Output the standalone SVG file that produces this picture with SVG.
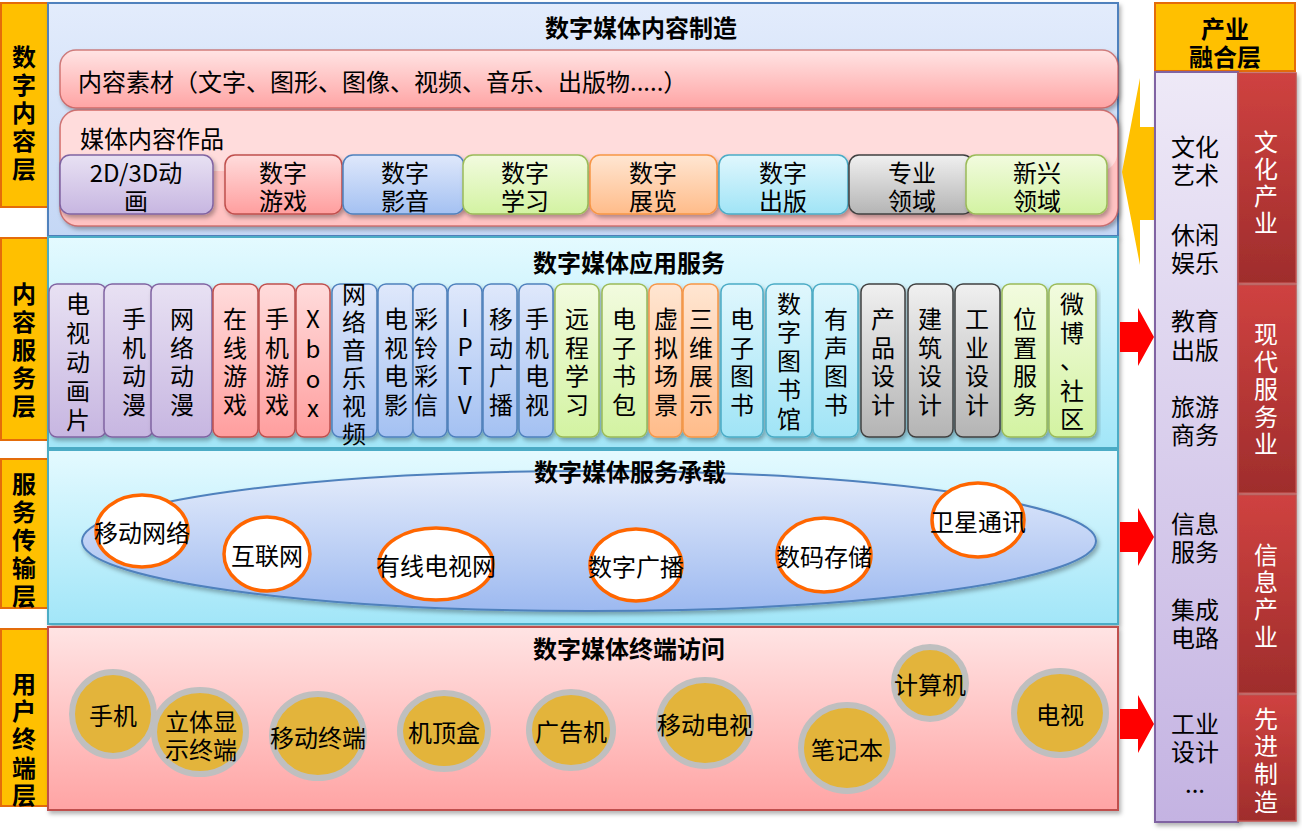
<svg xmlns="http://www.w3.org/2000/svg" width="1304" height="834" viewBox="0 0 1304 834">
<defs>
<linearGradient id="gP1" x1="0" y1="0" x2="0" y2="1"><stop offset="0" stop-color="#E3ECFC"/><stop offset="1" stop-color="#C4D7F5"/></linearGradient>
<linearGradient id="gCy" x1="0" y1="0" x2="0" y2="1"><stop offset="0" stop-color="#E4FAFF"/><stop offset="1" stop-color="#A2E6F8"/></linearGradient>
<linearGradient id="gPk" x1="0" y1="0" x2="0" y2="1"><stop offset="0" stop-color="#FFE4E4"/><stop offset="1" stop-color="#FFA4A4"/></linearGradient>
<linearGradient id="gEl" x1="0" y1="0" x2="0" y2="1"><stop offset="0" stop-color="#E4ECFB"/><stop offset="1" stop-color="#9DB9F0"/></linearGradient>
<linearGradient id="gPur" x1="0" y1="0" x2="0" y2="1"><stop offset="0" stop-color="#E8E1F3"/><stop offset="1" stop-color="#C7B6E1"/></linearGradient>
<linearGradient id="gRed" x1="0" y1="0" x2="0" y2="1"><stop offset="0" stop-color="#FFDCDC"/><stop offset="1" stop-color="#FF9E9E"/></linearGradient>
<linearGradient id="gBlu" x1="0" y1="0" x2="0" y2="1"><stop offset="0" stop-color="#DFE8FB"/><stop offset="1" stop-color="#A4C1F2"/></linearGradient>
<linearGradient id="gGrn" x1="0" y1="0" x2="0" y2="1"><stop offset="0" stop-color="#F2FBDF"/><stop offset="1" stop-color="#D3F3A2"/></linearGradient>
<linearGradient id="gOrg" x1="0" y1="0" x2="0" y2="1"><stop offset="0" stop-color="#FFE6D2"/><stop offset="1" stop-color="#FFBC8A"/></linearGradient>
<linearGradient id="gCyI" x1="0" y1="0" x2="0" y2="1"><stop offset="0" stop-color="#E0F7FD"/><stop offset="1" stop-color="#A0E4F6"/></linearGradient>
<linearGradient id="gGry" x1="0" y1="0" x2="0" y2="1"><stop offset="0" stop-color="#F0F0F0"/><stop offset="1" stop-color="#B4B4B4"/></linearGradient>
<linearGradient id="gPurCol" x1="0" y1="0" x2="0" y2="1"><stop offset="0" stop-color="#EEE9F7"/><stop offset="1" stop-color="#C4B3E2"/></linearGradient>
<linearGradient id="gRedCol" x1="0" y1="0" x2="0" y2="1"><stop offset="0" stop-color="#CF4240"/><stop offset="1" stop-color="#9F2D2C"/></linearGradient>
<filter id="sh" x="-10%" y="-10%" width="120%" height="130%"><feDropShadow dx="2" dy="3" stdDeviation="2" flood-color="#000" flood-opacity="0.3"/></filter>
</defs>
<style>
text{font-family:"Noto Sans CJK SC","Noto Sans",sans-serif;font-size:24px;fill:#000;dominant-baseline:central}
.b{font-weight:bold}
.c{text-anchor:middle}
.w{fill:#fff}
.lab{fill:#FFC000;stroke:#E46C0A;stroke-width:2}
.pur{fill:url(#gPur);stroke:#8064A2;stroke-width:1.5}
.red{fill:url(#gRed);stroke:#C0504D;stroke-width:1.5}
.blu{fill:url(#gBlu);stroke:#4F81BD;stroke-width:1.5}
.grn{fill:url(#gGrn);stroke:#9BBB59;stroke-width:1.5}
.org{fill:url(#gOrg);stroke:#F79646;stroke-width:1.5}
.cyi{fill:url(#gCyI);stroke:#4BACC6;stroke-width:1.5}
.gry{fill:url(#gGry);stroke:#404040;stroke-width:1.5}
.net{fill:#fff;stroke:#FF6600;stroke-width:3.5}
.dev{fill:#E3B43B;stroke:#BFBFBF;stroke-width:6}
.redc{fill:url(#gRedCol);stroke:#C0504D;stroke-width:1.5}
</style>
<rect width="1304" height="834" fill="#fff"/>

<!-- left layer labels -->
<g id="label-content">
<rect class="lab" x="1" y="3" width="47" height="204"/>
<text class="b c"><tspan x="24" y="55">数</tspan><tspan x="24" y="83">字</tspan><tspan x="24" y="111">内</tspan><tspan x="24" y="139">容</tspan><tspan x="24" y="167">层</tspan></text>
</g>
<g id="label-service">
<rect class="lab" x="1" y="238" width="47" height="202"/>
<text class="b c"><tspan x="24" y="292">内</tspan><tspan x="24" y="320">容</tspan><tspan x="24" y="348">服</tspan><tspan x="24" y="376">务</tspan><tspan x="24" y="404">层</tspan></text>
</g>
<g id="label-transport">
<rect class="lab" x="1" y="459" width="47" height="149"/>
<text class="b c"><tspan x="24" y="482">服</tspan><tspan x="24" y="510">务</tspan><tspan x="24" y="538">传</tspan><tspan x="24" y="566">输</tspan><tspan x="24" y="594">层</tspan></text>
</g>
<g id="label-terminal">
<rect class="lab" x="1" y="629" width="47" height="177"/>
<text class="b c"><tspan x="24" y="682">用</tspan><tspan x="24" y="709">户</tspan><tspan x="24" y="737">终</tspan><tspan x="24" y="766">端</tspan><tspan x="24" y="793">层</tspan></text>
</g>

<!-- Layer 1 -->
<g id="panel-content">
<rect x="48" y="3" width="1070" height="233" fill="url(#gP1)" stroke="#4F81BD" stroke-width="2" filter="url(#sh)"/>
<text class="b c" x="641" y="26">数字媒体内容制造</text>
</g>
<g id="material">
<rect x="60" y="50" width="1058" height="58" rx="16" fill="url(#gPk)" stroke="#C0504D" stroke-width="1.5" stroke-opacity="0.7" filter="url(#sh)"/>
<text x="78" y="80">内容素材（文字、图形、图像、视频、音乐、出版物.....）</text>
</g>
<g id="works">
<rect x="60" y="110" width="1058" height="116" rx="18" fill="#FFC2C2" stroke="#C0504D" stroke-width="1.5" stroke-opacity="0.7" filter="url(#sh)"/>
<rect x="61" y="111" width="1056" height="60" rx="17" fill="#FFE2E2" opacity="0.8"/>
<text x="80" y="137">媒体内容作品</text>
</g>
<g id="w-anim"><rect class="pur" x="60" y="155" width="153" height="59" rx="10" filter="url(#sh)"/><text class="c"><tspan x="136" y="171">2D/3D动</tspan><tspan x="136" y="199">画</tspan></text></g>
<g id="w-game"><rect class="red" x="225" y="155" width="117" height="59" rx="10" filter="url(#sh)"/><text class="c"><tspan x="283" y="171">数字</tspan><tspan x="283" y="199">游戏</tspan></text></g>
<g id="w-av"><rect class="blu" x="343" y="155" width="121" height="59" rx="10" filter="url(#sh)"/><text class="c"><tspan x="405" y="171">数字</tspan><tspan x="405" y="199">影音</tspan></text></g>
<g id="w-learn"><rect class="grn" x="463" y="155" width="125" height="59" rx="10" filter="url(#sh)"/><text class="c"><tspan x="525" y="171">数字</tspan><tspan x="525" y="199">学习</tspan></text></g>
<g id="w-expo"><rect class="org" x="590" y="155" width="127" height="59" rx="10" filter="url(#sh)"/><text class="c"><tspan x="653" y="171">数字</tspan><tspan x="653" y="199">展览</tspan></text></g>
<g id="w-pub"><rect class="cyi" x="719" y="155" width="129" height="59" rx="10" filter="url(#sh)"/><text class="c"><tspan x="783" y="171">数字</tspan><tspan x="783" y="199">出版</tspan></text></g>
<g id="w-pro"><rect class="gry" x="849" y="155" width="124" height="59" rx="10" filter="url(#sh)"/><text class="c"><tspan x="912" y="171">专业</tspan><tspan x="912" y="199">领域</tspan></text></g>
<g id="w-new"><rect class="grn" x="966" y="155" width="141" height="59" rx="10" filter="url(#sh)"/><text class="c"><tspan x="1037" y="171">新兴</tspan><tspan x="1037" y="199">领域</tspan></text></g>

<!-- Layer 2 -->
<g id="panel-app">
<rect x="48" y="237" width="1070" height="211" fill="url(#gCy)" stroke="#4BACC6" stroke-width="2" filter="url(#sh)"/>
<text class="b c" x="629" y="261">数字媒体应用服务</text>
</g>
<g id="s1"><rect class="pur" x="49" y="284" width="57" height="153" rx="8" filter="url(#sh)"/><text class="c"><tspan x="78" y="302">电</tspan><tspan x="78" y="331">视</tspan><tspan x="78" y="360">动</tspan><tspan x="78" y="389">画</tspan><tspan x="78" y="418">片</tspan></text></g>
<g id="s2"><rect class="pur" x="104" y="284" width="49" height="153" rx="8" filter="url(#sh)"/><text class="c"><tspan x="134" y="317">手</tspan><tspan x="134" y="346">机</tspan><tspan x="134" y="374">动</tspan><tspan x="134" y="403">漫</tspan></text></g>
<g id="s3"><rect class="pur" x="151" y="284" width="61" height="153" rx="8" filter="url(#sh)"/><text class="c"><tspan x="182" y="317">网</tspan><tspan x="182" y="346">络</tspan><tspan x="182" y="374">动</tspan><tspan x="182" y="403">漫</tspan></text></g>
<g id="s4"><rect class="red" x="213" y="284" width="45" height="153" rx="8" filter="url(#sh)"/><text class="c"><tspan x="235" y="317">在</tspan><tspan x="235" y="346">线</tspan><tspan x="235" y="374">游</tspan><tspan x="235" y="403">戏</tspan></text></g>
<g id="s5"><rect class="red" x="259" y="284" width="36" height="153" rx="8" filter="url(#sh)"/><text class="c"><tspan x="277" y="317">手</tspan><tspan x="277" y="346">机</tspan><tspan x="277" y="374">游</tspan><tspan x="277" y="403">戏</tspan></text></g>
<g id="s6"><rect class="red" x="296" y="284" width="34" height="153" rx="8" filter="url(#sh)"/><text class="c"><tspan x="313" y="317">X</tspan><tspan x="313" y="347">b</tspan><tspan x="313" y="377">o</tspan><tspan x="313" y="406">x</tspan></text></g>
<g id="s7"><rect class="blu" x="332" y="284" width="45" height="153" rx="8" filter="url(#sh)"/><text class="c"><tspan x="354" y="292">网</tspan><tspan x="354" y="320">络</tspan><tspan x="354" y="348">音</tspan><tspan x="354" y="376">乐</tspan><tspan x="354" y="404">视</tspan><tspan x="354" y="432">频</tspan></text></g>
<g id="s8"><rect class="blu" x="378" y="284" width="35" height="153" rx="8" filter="url(#sh)"/><text class="c"><tspan x="396" y="317">电</tspan><tspan x="396" y="346">视</tspan><tspan x="396" y="374">电</tspan><tspan x="396" y="403">影</tspan></text></g>
<g id="s9"><rect class="blu" x="413" y="284" width="34" height="153" rx="8" filter="url(#sh)"/><text class="c"><tspan x="426" y="317">彩</tspan><tspan x="426" y="346">铃</tspan><tspan x="426" y="374">彩</tspan><tspan x="426" y="403">信</tspan></text></g>
<g id="s10"><rect class="blu" x="448" y="284" width="34" height="153" rx="8" filter="url(#sh)"/><text class="c"><tspan x="465" y="316">I</tspan><tspan x="465" y="345">P</tspan><tspan x="465" y="374">T</tspan><tspan x="465" y="403">V</tspan></text></g>
<g id="s11"><rect class="blu" x="483" y="284" width="34" height="153" rx="8" filter="url(#sh)"/><text class="c"><tspan x="501" y="317">移</tspan><tspan x="501" y="346">动</tspan><tspan x="501" y="374">广</tspan><tspan x="501" y="403">播</tspan></text></g>
<g id="s12"><rect class="blu" x="519" y="284" width="34" height="153" rx="8" filter="url(#sh)"/><text class="c"><tspan x="537" y="317">手</tspan><tspan x="537" y="346">机</tspan><tspan x="537" y="374">电</tspan><tspan x="537" y="403">视</tspan></text></g>
<g id="s13"><rect class="grn" x="555" y="284" width="44" height="153" rx="8" filter="url(#sh)"/><text class="c"><tspan x="577" y="317">远</tspan><tspan x="577" y="346">程</tspan><tspan x="577" y="374">学</tspan><tspan x="577" y="403">习</tspan></text></g>
<g id="s14"><rect class="grn" x="602" y="284" width="45" height="153" rx="8" filter="url(#sh)"/><text class="c"><tspan x="624" y="317">电</tspan><tspan x="624" y="346">子</tspan><tspan x="624" y="374">书</tspan><tspan x="624" y="403">包</tspan></text></g>
<g id="s15"><rect class="org" x="649" y="284" width="33" height="153" rx="8" filter="url(#sh)"/><text class="c"><tspan x="666" y="317">虚</tspan><tspan x="666" y="346">拟</tspan><tspan x="666" y="374">场</tspan><tspan x="666" y="403">景</tspan></text></g>
<g id="s16"><rect class="org" x="683" y="284" width="35" height="153" rx="8" filter="url(#sh)"/><text class="c"><tspan x="701" y="317">三</tspan><tspan x="701" y="346">维</tspan><tspan x="701" y="374">展</tspan><tspan x="701" y="403">示</tspan></text></g>
<g id="s17"><rect class="cyi" x="721" y="284" width="42" height="153" rx="8" filter="url(#sh)"/><text class="c"><tspan x="742" y="317">电</tspan><tspan x="742" y="346">子</tspan><tspan x="742" y="374">图</tspan><tspan x="742" y="403">书</tspan></text></g>
<g id="s18"><rect class="cyi" x="766" y="284" width="46" height="153" rx="8" filter="url(#sh)"/><text class="c"><tspan x="789" y="302">数</tspan><tspan x="789" y="330">字</tspan><tspan x="789" y="359">图</tspan><tspan x="789" y="388">书</tspan><tspan x="789" y="417">馆</tspan></text></g>
<g id="s19"><rect class="cyi" x="813" y="284" width="45" height="153" rx="8" filter="url(#sh)"/><text class="c"><tspan x="836" y="317">有</tspan><tspan x="836" y="346">声</tspan><tspan x="836" y="374">图</tspan><tspan x="836" y="403">书</tspan></text></g>
<g id="s20"><rect class="gry" x="861" y="284" width="44" height="153" rx="8" filter="url(#sh)"/><text class="c"><tspan x="883" y="317">产</tspan><tspan x="883" y="346">品</tspan><tspan x="883" y="374">设</tspan><tspan x="883" y="403">计</tspan></text></g>
<g id="s21"><rect class="gry" x="908" y="284" width="45" height="153" rx="8" filter="url(#sh)"/><text class="c"><tspan x="930" y="317">建</tspan><tspan x="930" y="346">筑</tspan><tspan x="930" y="374">设</tspan><tspan x="930" y="403">计</tspan></text></g>
<g id="s22"><rect class="gry" x="955" y="284" width="45" height="153" rx="8" filter="url(#sh)"/><text class="c"><tspan x="977" y="317">工</tspan><tspan x="977" y="346">业</tspan><tspan x="977" y="374">设</tspan><tspan x="977" y="403">计</tspan></text></g>
<g id="s23"><rect class="grn" x="1002" y="284" width="45" height="153" rx="8" filter="url(#sh)"/><text class="c"><tspan x="1025" y="317">位</tspan><tspan x="1025" y="346">置</tspan><tspan x="1025" y="374">服</tspan><tspan x="1025" y="403">务</tspan></text></g>
<g id="s24"><rect class="grn" x="1049" y="284" width="47" height="153" rx="8" filter="url(#sh)"/><text class="c"><tspan x="1072" y="302">微</tspan><tspan x="1072" y="331">博</tspan><tspan x="1072" y="358">、</tspan><tspan x="1072" y="389">社</tspan><tspan x="1072" y="417">区</tspan></text></g>

<!-- Layer 3 -->
<g id="panel-transport">
<rect x="48" y="450" width="1070" height="174" fill="url(#gCy)" stroke="#4BACC6" stroke-width="2" filter="url(#sh)"/>
<ellipse cx="589" cy="541" rx="507" ry="70" fill="url(#gEl)" stroke="#4F81BD" stroke-width="2" filter="url(#sh)"/>
<text class="b c" x="630" y="470">数字媒体服务承载</text>
</g>
<g id="n1"><ellipse class="net" cx="142" cy="531" rx="46" ry="36"/><text class="c" x="142" y="531" font-size="23">移动网络</text></g>
<g id="n2"><ellipse class="net" cx="267" cy="554" rx="43" ry="37"/><text class="c" x="267" y="554" font-size="23">互联网</text></g>
<g id="n3"><ellipse class="net" cx="436" cy="564" rx="57" ry="36"/><text class="c" x="436" y="564" font-size="23">有线电视网</text></g>
<g id="n4"><ellipse class="net" cx="636" cy="565" rx="46" ry="36"/><text class="c" x="636" y="565" font-size="23">数字广播</text></g>
<g id="n5"><ellipse class="net" cx="824" cy="555" rx="47" ry="37"/><text class="c" x="824" y="555" font-size="23">数码存储</text></g>
<g id="n6"><ellipse class="net" cx="978" cy="520" rx="46" ry="37"/><text class="c" x="978" y="520" font-size="23">卫星通讯</text></g>

<!-- Layer 4 -->
<g id="panel-terminal">
<rect x="48" y="627" width="1070" height="183" fill="url(#gPk)" stroke="#C0504D" stroke-width="2" filter="url(#sh)"/>
<text class="b c" x="629" y="647">数字媒体终端访问</text>
</g>
<g id="d1"><ellipse class="dev" cx="113" cy="714" rx="41" ry="42"/><text class="c" x="113" y="714">手机</text></g>
<g id="d2"><ellipse class="dev" cx="200" cy="732" rx="46" ry="42"/><text class="c"><tspan x="201" y="720">立体显</tspan><tspan x="201" y="748">示终端</tspan></text></g>
<g id="d3"><ellipse class="dev" cx="318" cy="736" rx="46" ry="42"/><text class="c" x="318" y="736">移动终端</text></g>
<g id="d4"><ellipse class="dev" cx="444" cy="731" rx="44" ry="38"/><text class="c" x="444" y="731">机顶盒</text></g>
<g id="d5"><ellipse class="dev" cx="571" cy="730" rx="42" ry="38"/><text class="c" x="571" y="730">广告机</text></g>
<g id="d6"><ellipse class="dev" cx="705" cy="723" rx="46" ry="43"/><text class="c" x="705" y="723">移动电视</text></g>
<g id="d7"><ellipse class="dev" cx="847" cy="748" rx="46" ry="43"/><text class="c" x="847" y="748">笔记本</text></g>
<g id="d8"><ellipse class="dev" cx="930" cy="683" rx="36" ry="36"/><text class="c" x="930" y="683">计算机</text></g>
<g id="d9"><ellipse class="dev" cx="1060" cy="713" rx="46" ry="42"/><text class="c" x="1060" y="713">电视</text></g>

<!-- connectors -->
<g id="connectors">
<polygon points="1122,172 1140,78 1140,127 1158,127 1158,220 1140,220 1140,265" fill="#FFC000"/>
<polygon points="1120,322 1138,322 1138,308 1154,337 1138,366 1138,352 1120,352" fill="#FF0000"/>
<polygon points="1120,522 1138,522 1138,508 1154,537 1138,566 1138,552 1120,552" fill="#FF0000"/>
<polygon points="1120,709 1138,709 1138,695 1154,724 1138,753 1138,739 1120,739" fill="#FF0000"/>
</g>

<!-- right side -->
<g id="fusion-title">
<rect class="lab" x="1155" y="3" width="140" height="68"/>
<text class="b c"><tspan x="1225" y="27">产业</tspan><tspan x="1225" y="55">融合层</tspan></text>
</g>
<g id="fusion-fields">
<rect x="1155" y="72" width="83" height="750" fill="url(#gPurCol)" stroke="#8064A2" stroke-width="2" filter="url(#sh)"/>
<text class="c"><tspan x="1195" y="145">文化</tspan><tspan x="1195" y="173">艺术</tspan><tspan x="1195" y="233">休闲</tspan><tspan x="1195" y="261">娱乐</tspan><tspan x="1195" y="319">教育</tspan><tspan x="1195" y="348">出版</tspan><tspan x="1195" y="405">旅游</tspan><tspan x="1195" y="433">商务</tspan><tspan x="1195" y="522">信息</tspan><tspan x="1195" y="550">服务</tspan><tspan x="1195" y="608">集成</tspan><tspan x="1195" y="636">电路</tspan><tspan x="1195" y="722">工业</tspan><tspan x="1195" y="750">设计</tspan><tspan x="1195" y="782">...</tspan></text>
</g>
<g id="ind-culture"><rect class="redc" x="1238" y="73" width="58" height="210" filter="url(#sh)"/><text class="c w"><tspan x="1266" y="140">文</tspan><tspan x="1266" y="167">化</tspan><tspan x="1266" y="194">产</tspan><tspan x="1266" y="221">业</tspan></text></g>
<g id="ind-service"><rect class="redc" x="1238" y="285" width="58" height="208" filter="url(#sh)"/><text class="c w"><tspan x="1266" y="332">现</tspan><tspan x="1266" y="360">代</tspan><tspan x="1266" y="387">服</tspan><tspan x="1266" y="415">务</tspan><tspan x="1266" y="442">业</tspan></text></g>
<g id="ind-info"><rect class="redc" x="1238" y="495" width="58" height="198" filter="url(#sh)"/><text class="c w"><tspan x="1266" y="553">信</tspan><tspan x="1266" y="580">息</tspan><tspan x="1266" y="607">产</tspan><tspan x="1266" y="635">业</tspan></text></g>
<g id="ind-manu"><rect class="redc" x="1238" y="695" width="58" height="126" filter="url(#sh)"/><text class="c w"><tspan x="1266" y="717">先</tspan><tspan x="1266" y="744">进</tspan><tspan x="1266" y="772">制</tspan><tspan x="1266" y="800">造</tspan></text></g>
</svg>
